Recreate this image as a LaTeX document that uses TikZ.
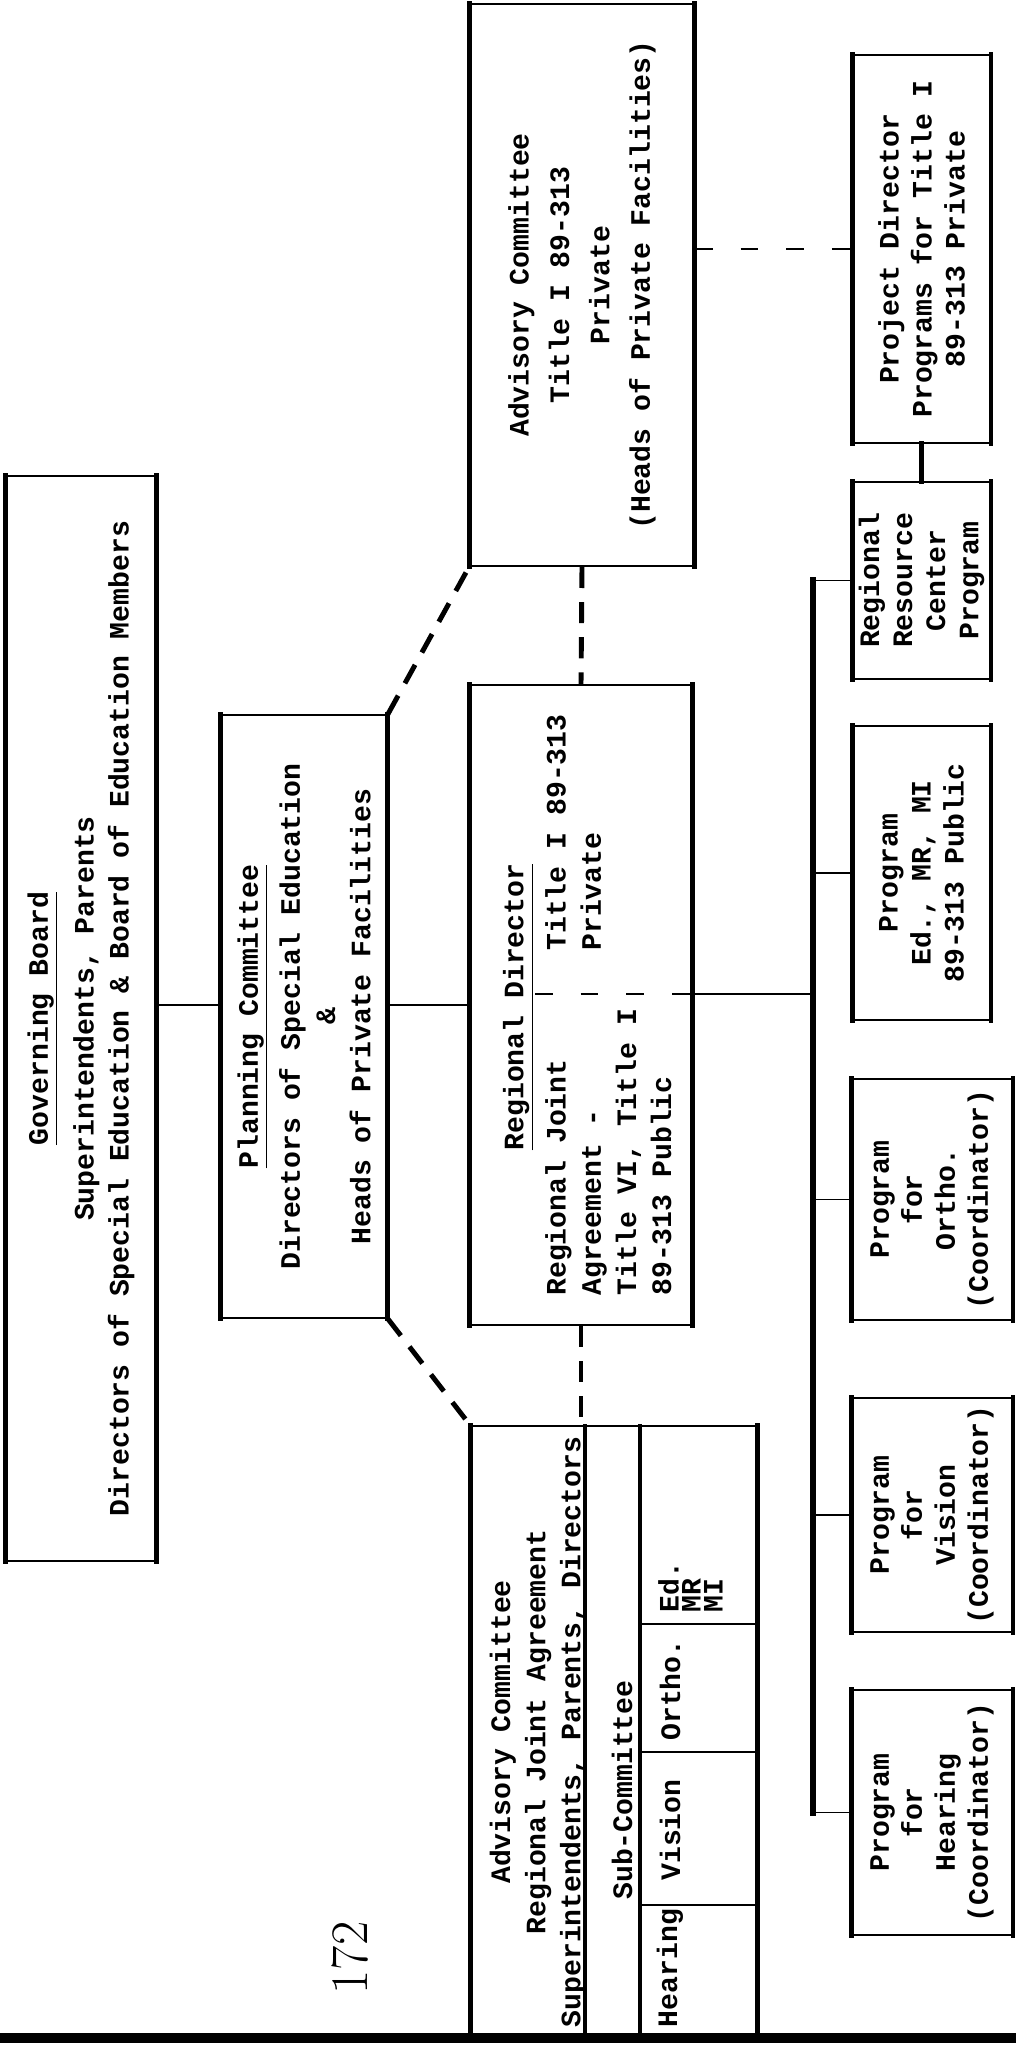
\documentclass[tikz,border=0pt]{standalone}
\usepackage{fontspec}
\setmonofont{Liberation Mono}
\usepackage{tikz}

\begin{document}
\begin{tikzpicture}[
    x=0.02cm, y=-0.02cm,
    every node/.style={rotate=90},
    font=\ttfamily\bfseries\fontsize{16}{20}\selectfont,
    box/.style={draw, line width=1.1pt, inner sep=0pt, align=center},
    prog/.style={box, minimum height=2.74cm, font=\ttfamily\bfseries\fontsize{16}{18.8}\selectfont},
    progwide/.style={prog, minimum height=3.2cm},
    txt/.style={inner sep=0pt, align=center},
    heavy/.style={line width=2.8pt, line cap=rect},
    rule/.style={line width=1.1pt},
    dashheavy/.style={line width=2.8pt, dash pattern=on 12pt off 8pt},
    dashrule/.style={line width=1.1pt, dash pattern=on 10pt off 16pt}
  ]
  \fill[white] (0,0) rectangle (1016,2051);
  \useasboundingbox (0,0) rectangle (1016,2051);

  % top of the chart
  \node[box, minimum width=21.7cm, minimum height=3cm] (gb) at (81,1018.5)
    {\underline{Governing Board}\\[6pt]Superintendents, Parents\\Directors of Special Education \& Board of Education Members};
  \node[box, minimum width=12.06cm, minimum height=3.32cm] (pc) at (304,1016.5)
    {\underline{Planning Committee}\\[4pt]Directors of Special Education\\\&\\Heads of Private Facilities};

  % middle row
  \node[box, minimum width=11.24cm, minimum height=4.48cm] (acpriv) at (582,285)
    {Advisory Committee\\[3pt]Title I 89-313\\[3pt]Private\\[3pt](Heads of Private Facilities)};
  \node[box, minimum width=12.8cm, minimum height=4.44cm] (rd) at (581,1005) {};
  \node[txt] (rdtitle) at (518,1007) {\underline{Regional Director}};
  \node[txt, align=left, anchor=north west] (rdleft) at (545,1296)
    {Regional Joint\\Agreement -\\Title VI, Title I\\89-313 Public};
  \node[txt, align=left, anchor=north west] (rdright) at (545,951)
    {Title I 89-313\\Private};
  \coordinate (rddiv) at (535,994);
  \coordinate (rdout) at (rd.south |- rddiv);
  \node[box, minimum width=14.28cm, minimum height=5.72cm] (acrja) at (614,1783) {};
  \node[txt] (rjatext) at (538,1732)
    {Advisory Committee\\Regional Joint Agreement\\Superintendents, Parents, Directors};
  \node[txt] (subc) at (622,1790) {Sub-Committee};
  \node[txt] (subhear) at (670,1968) {Hearing};
  \node[txt] (subvis) at (670,1830) {Vision};
  \node[txt] (suborth) at (670,1690) {Ortho.};
  \node[txt, align=left, anchor=north west, font=\ttfamily\bfseries\fontsize{16}{12.5}\selectfont]
    (subed) at (658,1613) {Ed.\\MR\\MI};

  % programs
  \node[prog, minimum width=7.76cm] (pd) at (921.5,249)
    {Project Director\\Programs for Title I\\89-313 Private};
  \node[prog, minimum width=3.94cm] (rrc) at (921.5,580.5)
    {Regional\\Resource\\Center\\Program};
  \node[prog, minimum width=5.88cm] (ed) at (921.5,873)
    {Program\\Ed., MR, MI\\89-313 Public};
  \node[progwide, minimum width=4.82cm] (ortho) at (932,1199.5)
    {Program\\for\\Ortho.\\(Coordinator)};
  \node[progwide, minimum width=4.68cm] (vision) at (932,1515)
    {Program\\for\\Vision\\(Coordinator)};
  \node[progwide, minimum width=4.9cm] (hearing) at (932,1812.5)
    {Program\\for\\Hearing\\(Coordinator)};
  \coordinate (bustop) at (813,580.5);
  \coordinate (busbot) at (813,1812.5);

  \node[font=\rmfamily\mdseries\fontsize{30}{30}\selectfont] (pagenum) at (350,1958) {172};

  % heavy ruled edges
  \foreach \n in {gb,pc,rd,acpriv,acrja,pd,rrc,ed,ortho,vision,hearing}
    \draw[heavy] (\n.north west) -- (\n.north east) (\n.south west) -- (\n.south east);

  % sub-committee rules
  \draw[heavy] (585,1426) -- (585,2140);
  \draw[heavy] (640,1426) -- (640,2140);
  \foreach \v in {1624,1752,1905}
    \draw[rule] (640,\v) -- (757,\v);

  % lines of authority
  \draw[rule] (gb.south |- rd) -- (pc.north |- rd);
  \draw[rule] (pc.south |- rd) -- (rd.north);
  \draw[dashrule] (rddiv) -- (rdout);
  \draw[rule] (rdout) -- (rdout -| bustop);
  \draw[heavy, line width=3.6pt] (bustop) -- (busbot);
  \foreach \n in {rrc,ed,ortho,vision,hearing}
    \draw[rule] (\n.north) -- (\n.north -| bustop);
  \draw[heavy] (pd.west) -- (rrc.east);

  % advisory links
  \draw[dashheavy] (pc.south east) -- (acpriv.north west);
  \draw[dashheavy] (pc.south west) -- (acrja.north east);
  \draw[dashheavy] (acpriv.west) -- (rd.east);
  \draw[dashheavy] (rd.west) -- (rd.west |- acrja.east);
  \draw[dashrule] (pd.north -| acpriv.south) -- (pd.north);

  % page edge
  \fill[white] (0,2043) rectangle (1016,2051);
  \draw[line width=5.7pt] (0,2038) -- (1016,2038);
\end{tikzpicture}
\end{document}
